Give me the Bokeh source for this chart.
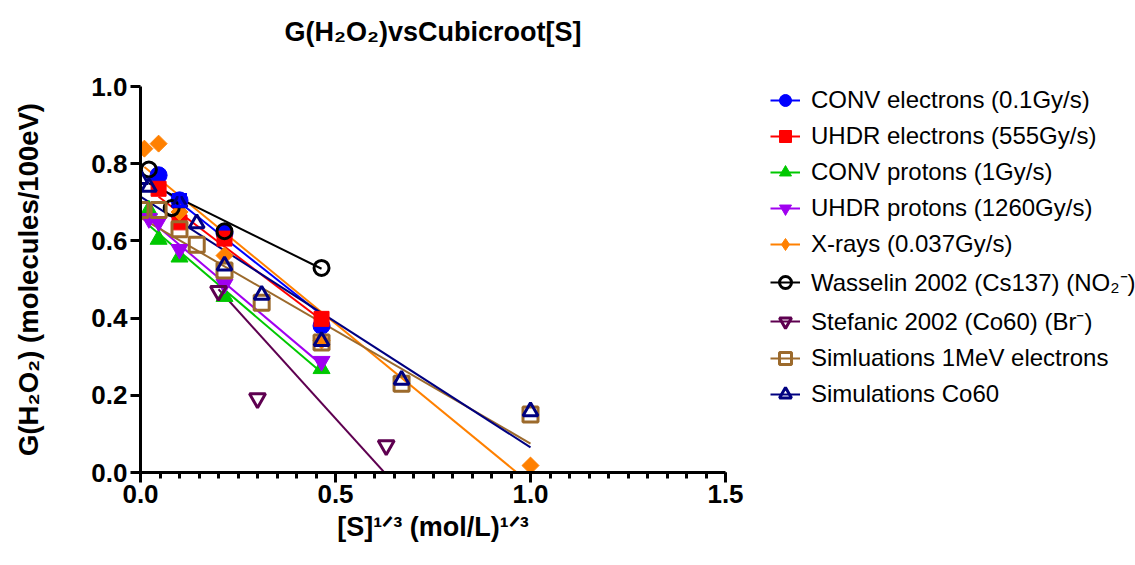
import numpy as np
from bokeh.plotting import figure
from bokeh.models import (Range1d, FixedTicker, PrintfTickFormatter, Legend, LegendItem,
                          Whisker, TeeHead, ColumnDataSource, Title)
from bokeh.embed import file_html
from bokeh.resources import INLINE

# ---------------- data ----------------
series_labels = ["CONV electrons (0.1Gy/s)", "UHDR electrons (555Gy/s)", "CONV protons (1Gy/s)",
                 "UHDR protons (1260Gy/s)", "X-rays (0.037Gy/s)", "Wasselin 2002 (Cs137) (NO\u2082\u207b)",
                 "Stefanic 2002 (Co60) (Br\u207b)", "Simluations 1MeV electrons", "Simulations Co60"]

conv_e_x = [0.0464, 0.1, 0.2154, 0.4642]
conv_e_y = [0.77, 0.705, 0.62, 0.38]
conv_e_err = [0.0, 0.015, 0.0, 0.0]

uhdr_e_x = [0.0464, 0.1, 0.2154, 0.4642]
uhdr_e_y = [0.735, 0.648, 0.606, 0.398]

conv_p_x = [0.0215, 0.0464, 0.1, 0.2154, 0.4642]
conv_p_y = [0.68, 0.604, 0.558, 0.456, 0.269]

uhdr_p_x = [0.0215, 0.0464, 0.1, 0.2154, 0.4642]
uhdr_p_y = [0.658, 0.65, 0.578, 0.488, 0.288]

xray_x = [0.01, 0.0464, 0.1, 0.2154, 0.4642, 1.0]
xray_y = [0.839, 0.852, 0.675, 0.562, 0.342, 0.018]

wasselin_x = [0.0215, 0.08, 0.2154, 0.4642]
wasselin_y = [0.785, 0.685, 0.625, 0.53]

stefanic_x = [0.2, 0.3, 0.63]
stefanic_y = [0.47, 0.192, 0.07]

sim_e_x = [0.0, 0.0464, 0.1, 0.1442, 0.2154, 0.3107, 0.4642, 0.6694, 1.0]
sim_e_y = [0.68, 0.68, 0.63, 0.59, 0.523, 0.44, 0.337, 0.23, 0.15]

sim_co_x = [0.0, 0.0215, 0.1, 0.1442, 0.2154, 0.3107, 0.4642, 0.6694, 1.0]
sim_co_y = [0.76, 0.74, 0.70, 0.645, 0.536, 0.46, 0.34, 0.24, 0.158]

# linear fits (slope, intercept)
fit_slopes = [-0.80, -0.765, -0.862, -0.852, -0.829, -0.50, -1.116, -0.585, -0.65]
fit_intercepts = [0.78, 0.75, 0.659, 0.675, 0.800, 0.76, 0.698, 0.66, 0.715]

x_ticks = [0.0, 0.5, 1.0, 1.5]
y_ticks = [0.0, 0.2, 0.4, 0.6, 0.8, 1.0]

title_text = "G(H\u2082O\u2082)vsCubicroot[S]"
x_label = "[S]\u00b9\u141f\u00b3 (mol/L)\u00b9\u141f\u00b3"
y_label = "G(H\u2082O\u2082) (molecules/100eV)"

xs_list = [conv_e_x, uhdr_e_x, conv_p_x, uhdr_p_x, xray_x, wasselin_x, stefanic_x, sim_e_x, sim_co_x]
ys_list = [conv_e_y, uhdr_e_y, conv_p_y, uhdr_p_y, xray_y, wasselin_y, stefanic_y, sim_e_y, sim_co_y]

# ---------------- styles ----------------
colors = ["#0000FF", "#FF0000", "#00C800", "#A000F0", "#FF8000", "#000000", "#5E0050", "#9C6A2C", "#000080"]
markers = ["circle", "square", "triangle", "inverted_triangle", "square", "circle",
           "inverted_triangle", "square", "triangle"]
legend_markers = ["circle", "square", "triangle", "inverted_triangle", "diamond", "circle",
                  "inverted_triangle", "square", "triangle"]
angles = [0, 0, 0, 0, np.pi / 4, 0, 0, 0, 0]
filled = [True, True, True, True, True, False, False, False, False]
sizes = [17, 15, 17, 17, 12, 15, 16, 15, 15]

FONT = "Liberation Sans"
FL, FR, FT, FB = 140, 725, 86, 472   # frame edges in pixels

p = figure(title=None, frame_width=FR - FL, frame_height=FB - FT,
           x_range=Range1d(0, 1.5), y_range=Range1d(0, 1.0),
           output_backend="svg", toolbar_location=None,
           min_border_left=FL, min_border_right=0, min_border_top=FT, min_border_bottom=565 - FB)
p.outline_line_color = None
p.xgrid.visible = False
p.ygrid.visible = False
p.background_fill_color = "white"
p.border_fill_color = "white"

# title: a thin spacer title next to the frame, then the real title above it
p.add_layout(Title(text=" ", text_font_size="10px", standoff=27), "above")
p.add_layout(Title(text=title_text, align="center", text_font=FONT, text_font_style="bold",
                   text_font_size="27px", text_color="black", standoff=0), "above")

# axes
for ax in (p.xaxis[0], p.yaxis[0]):
    ax.axis_line_width = 3
    ax.axis_line_color = "black"
    ax.major_tick_line_width = 3
    ax.major_tick_in = 0
    ax.major_tick_out = 10
    ax.major_label_text_font = FONT
    ax.major_label_text_font_style = "bold"
    ax.major_label_text_font_size = "26px"
    ax.major_label_text_color = "black"
    ax.formatter = PrintfTickFormatter(format="%.1f")
    ax.axis_label_text_font = FONT
    ax.axis_label_text_font_style = "bold"
    ax.axis_label_text_font_size = "27px"
    ax.axis_label_text_color = "black"

p.xaxis[0].ticker = FixedTicker(ticks=x_ticks, minor_ticks=list(np.round(np.arange(0, 1.5001, 0.05), 3)))
p.xaxis[0].minor_tick_line_width = 3
p.xaxis[0].minor_tick_in = 0
p.xaxis[0].minor_tick_out = 6
p.xaxis[0].major_label_standoff = 2
p.xaxis[0].axis_label = x_label
p.xaxis[0].axis_label_standoff = 6
p.yaxis[0].ticker = FixedTicker(ticks=y_ticks, minor_ticks=[])
p.yaxis[0].minor_tick_line_color = None
p.yaxis[0].major_label_standoff = 3
p.yaxis[0].axis_label = y_label
p.yaxis[0].axis_label_text_font_size = "27.5px"
p.yaxis[0].axis_label_standoff = 44

# fit lines
line_rs = []
for i in range(9):
    xs = xs_list[i]
    lx = [min(xs), max(xs)]
    ly = [fit_intercepts[i] + fit_slopes[i] * v for v in lx]
    line_rs.append(p.line(lx, ly, line_color=colors[i], line_width=2))

# markers
scat_rs = []
leg_rs = []
for i in range(9):
    src = ColumnDataSource(dict(x=xs_list[i], y=ys_list[i]))
    style = dict(fill_color=colors[i], line_color=colors[i], line_width=1) if filled[i] else \
        dict(fill_color=None, line_color=colors[i], line_width=3)
    r = p.scatter("x", "y", source=src, marker=markers[i], size=sizes[i], angle=angles[i], **style)
    scat_rs.append(r)
    if legend_markers[i] != markers[i]:
        # legend-only glyph (no visible data point) for the diamond shape
        leg_rs.append(p.scatter([np.nan], [np.nan], marker=legend_markers[i], size=sizes[i], **style))
    else:
        leg_rs.append(r)

# error bar on CONV electrons
ex = [x for x, e in zip(conv_e_x, conv_e_err) if e > 0]
ey_u = [y + e for y, e in zip(conv_e_y, conv_e_err) if e > 0]
ey_l = [y - e for y, e in zip(conv_e_y, conv_e_err) if e > 0]
wsrc = ColumnDataSource(dict(x=ex, upper=ey_u, lower=ey_l))
p.add_layout(Whisker(source=wsrc, base="x", upper="upper", lower="lower", level="overlay",
                     line_color=colors[0], line_width=2,
                     upper_head=TeeHead(size=15, line_color=colors[0], line_width=3),
                     lower_head=TeeHead(size=15, line_color=colors[0], line_width=3)))

# legend in the right panel
items = [LegendItem(label=series_labels[i], renderers=[line_rs[i], leg_rs[i]]) for i in range(9)]
legend = Legend(items=items, location=(770 - FR, 63), border_line_color=None,
                background_fill_alpha=0, padding=0, margin=0, spacing=6,
                glyph_width=30, glyph_height=30, label_standoff=11, label_height=30,
                label_text_font=FONT, label_text_font_size="24px", label_text_color="black")
p.add_layout(legend, "right")

open("out.html", "w").write(file_html(p, INLINE))
